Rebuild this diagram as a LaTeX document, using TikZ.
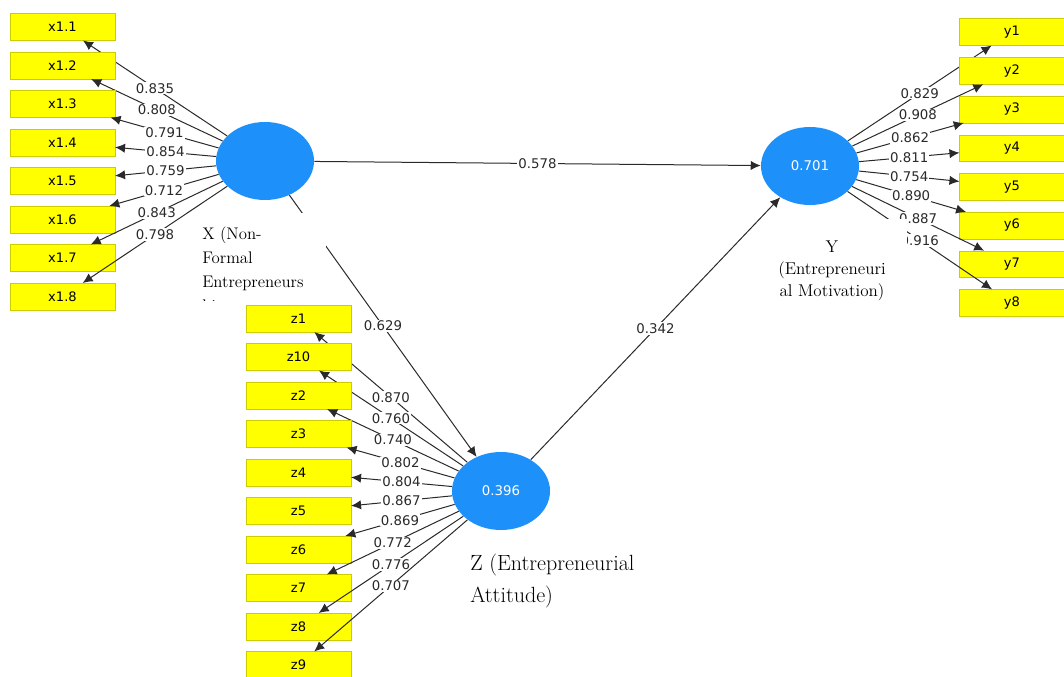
\documentclass[tikz,border=0pt]{standalone}
\usepackage{fontspec}
\newfontfamily\plsfont{DejaVu Sans}
\usetikzlibrary{arrows.meta,shapes.geometric}
\definecolor{lvblue}{HTML}{1E90FA}
\definecolor{mvyellow}{HTML}{FFFF00}
\definecolor{pathgray}{HTML}{2A2A2A}

\begin{document}
\begin{tikzpicture}[x=0.75pt,y=-0.75pt,
    lv/.style={ellipse,fill=lvblue,minimum width=73.5pt,minimum height=58.5pt,inner sep=0pt,
      text=white,font=\plsfont\fontsize{10}{11}\selectfont},
    mv/.style={draw=mvyellow!80!black,fill=mvyellow,line width=0.3pt,minimum width=78.5pt,
      minimum height=20pt,inner sep=0pt,font=\plsfont\fontsize{9.8}{11}\selectfont},
    load/.style={draw=pathgray,line width=0.75pt,-{Latex[length=7.5pt,width=7pt]}},
    coef/.style={fill=white,inner sep=0.8pt,text=pathgray,font=\plsfont\fontsize{10}{11}\selectfont},
    lvname/.style={inner sep=0pt}]
  \useasboundingbox (0,0) rectangle (1064,677);
  \node[lv] (X) at (265,161) {};
  \node[lv] (Y) at (810,166) {0.701};
  \node[lv] (Z) at (501,491) {0.396};
  \foreach \i/\l in {1/0.835,2/0.808,3/0.791,4/0.854,5/0.759,6/0.712,7/0.843,8/0.798}
    {\node[mv] (x\i) at (62.5,{27+38.5*(\i-1)}) {x1.\i};
     \draw[load] (X) -- node[coef]{\l} (x\i);}
  \foreach \i/\l in {1/0.829,2/0.908,3/0.862,4/0.811,5/0.754,6/0.890,7/0.887,8/0.916}
    {\node[mv] (y\i) at (1012,{32+38.7*(\i-1)}) {y\i};
     \draw[load] (Y) -- node[coef]{\l} (y\i);}
  \foreach \n/\l [count=\k from 0] in {1/0.870,10/0.760,2/0.740,3/0.802,4/0.804,5/0.867,6/0.869,7/0.772,8/0.776,9/0.707}
    {\node[mv] (z\n) at (298.5,{318.5+38.5*\k}) {z\n};
     \draw[load] (Z) -- node[coef]{\l} (z\n);}
  \draw[load] (X) -- node[coef]{0.578} (Y);
  \draw[load] (X) -- node[coef]{0.629} (Z);
  \draw[load] (Z) -- node[coef]{0.342} (Y);
  \fill[white] (196,213) rectangle (326,302);
  \fill[white] (765,219) rectangle (907,302);
  \begin{scope}
    \clip (196,213) rectangle (326,301);
    \node[lvname,font=\fontsize{12.6}{18}\selectfont,anchor=north west,align=left] (Xname) at (202,227) {X (Non-\\Formal\\Entrepreneurs\\hip};
  \end{scope}
  \node[lvname,font=\fontsize{12.8}{16.5}\selectfont,anchor=north,align=center] (Yname) at (832,241) {Y\\(Entrepreneuri\\al Motivation)};
  \node[lvname,font=\fontsize{16.5}{24}\selectfont,anchor=north west,align=left] (Zname) at (470,554) {Z (Entrepreneurial\\Attitude)};
\end{tikzpicture}
\end{document}
